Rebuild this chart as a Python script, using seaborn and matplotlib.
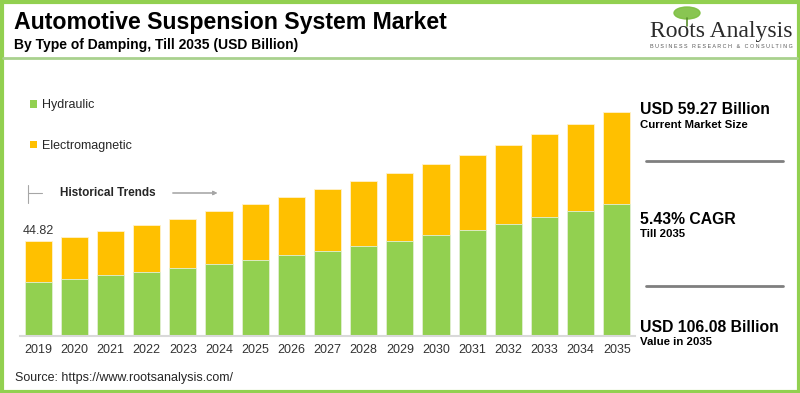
import matplotlib
matplotlib.use("Agg")
import matplotlib.pyplot as plt
from matplotlib.patches import Patch, Rectangle, Ellipse
from matplotlib.lines import Line2D
import pandas as pd
import seaborn as sns

# data (USD billion)
years = [str(y) for y in range(2019, 2036)]
hydraulic = [25.45, 27.0, 28.8, 30.5, 32.1, 34.0, 36.2, 38.2, 40.1, 42.5,
             45.0, 47.7, 50.2, 53.1, 56.3, 59.1, 62.6]
electromagnetic = [19.37, 19.95, 20.8, 22.3, 23.5, 25.27, 26.3, 27.7, 29.4, 30.8,
                   32.4, 33.9, 35.8, 37.6, 39.3, 41.6, 43.48]
series = ['Hydraulic', 'Electromagnetic']
colors = ['#92D050', '#FFC000']

df = pd.DataFrame({'Year': years, 'Hydraulic': hydraulic, 'Electromagnetic': electromagnetic})
df['Total'] = df['Hydraulic'] + df['Electromagnetic']

sns.set_theme(style="white")
plt.rcParams['font.family'] = ['Liberation Sans', 'DejaVu Sans']

W, H = 800, 393
fig = plt.figure(figsize=(8, 3.93), dpi=100)


def fx(x):
    return x / W


def fy(y):
    return 1 - y / H


ax = fig.add_axes([fx(20), fy(336), fx(635) - fx(20), fy(90) - fy(336)])

# stacked bars: total first (yellow), hydraulic on top of it (green)
sns.barplot(data=df, x='Year', y='Total', color=colors[1], width=0.75,
            edgecolor='#fff2cc', linewidth=0.6, saturation=1, ax=ax)
sns.barplot(data=df, x='Year', y='Hydraulic', color=colors[0], width=0.75,
            edgecolor='#e2f0d9', linewidth=0.6, saturation=1, ax=ax)

ax.set_xlim(-0.5, len(years) - 0.5)
ax.set_ylim(0, 246 / 2.11)
ax.set_xlabel('')
ax.set_ylabel('')
ax.set_yticks([])
for s in ['top', 'right', 'left']:
    ax.spines[s].set_visible(False)
ax.spines['bottom'].set_color('#d9d9d9')
ax.spines['bottom'].set_linewidth(1.5)
ax.tick_params(axis='x', length=0, labelsize=9, labelcolor='#333333', pad=6)

# first-year label
ax.annotate(f"{df['Total'].iloc[0]:.2f}", xy=(0, df['Total'].iloc[0]),
            xytext=(0, 3), textcoords='offset points', ha='center', va='bottom',
            fontsize=9, color='#333333')

# legend
handles = [Patch(facecolor=c, edgecolor='none') for c in colors]
fig.legend(handles, series, loc='upper left', bbox_to_anchor=(fx(24), fy(93)),
           frameon=False, fontsize=9, handlelength=0.55, handleheight=0.55,
           handletextpad=0.4, labelspacing=2.3, borderpad=0)

# historical trends marker
fig.add_artist(Line2D([fx(28), fx(28)], [fy(185), fy(203)], color='#a6a6a6', lw=0.8))
fig.add_artist(Line2D([fx(28), fx(42)], [fy(193), fy(193)], color='#a6a6a6', lw=0.8))
fig.text(fx(60), fy(193), 'Historical Trends', fontsize=8.5, fontweight='bold',
         va='center', ha='left', color='#262626')
fig.add_artist(plt.annotate('', xy=(fx(220), fy(193)), xytext=(fx(170), fy(193)),
                            xycoords='figure fraction',
                            arrowprops=dict(arrowstyle='-|>', color='#a6a6a6', lw=0.8,
                                            mutation_scale=6)))

# title block
fig.text(fx(14), fy(22), 'Automotive Suspension System Market', fontsize=16.7,
         fontweight='bold', va='center', ha='left', color='black')
fig.text(fx(14), fy(45), 'By Type of Damping, Till 2035 (USD Billion)', fontsize=10,
         fontweight='bold', va='center', ha='left', color='black')
fig.add_artist(Line2D([fx(3), fx(797)], [fy(58), fy(58)], color='#a9d18e', lw=2))

# logo
fig.add_artist(Ellipse((fx(687), fy(13)), fx(26), 12 / H, color='#7cbf3f', alpha=0.9))
fig.add_artist(Line2D([fx(687), fx(687)], [fy(18), fy(26)], color='#5a8f2e', lw=1.2))
fig.text(fx(721), fy(31), 'Roots Analysis', fontsize=17, family='Liberation Serif',
         va='center', ha='center', color='#2b2b2b')
fig.text(fx(721), fy(47), 'B U S I N E S S   R E S E A R C H   &   C O N S U L T I N G',
         fontsize=3.9, va='center', ha='center', color='#595959')

# right-hand summary panel
panel = [(110, 'USD 59.27 Billion', 11.3), (125, 'Current Market Size', 8.2),
         (219, '5.43% CAGR', 11.3), (234, 'Till 2035', 8.2),
         (327, 'USD 106.08 Billion', 11.3), (342, 'Value in 2035', 8.2)]
for y, txt, fs in panel:
    fig.text(fx(640), fy(y), txt, fontsize=fs, fontweight='bold', va='center',
             ha='left', color='black')
for y in [160.5, 286]:
    fig.add_artist(Line2D([fx(646), fx(783)], [fy(y), fy(y)], color='#7f7f7f', lw=2))

# source
fig.text(fx(15), fy(378), 'Source: https://www.rootsanalysis.com/', fontsize=9,
         va='center', ha='left', color='#262626')

# green frame
fig.add_artist(Rectangle((fx(1.5), fy(391.5)), fx(797), (390) / H, transform=fig.transFigure,
                         fill=False, edgecolor='#92D050', lw=3))

fig.savefig('out.png', dpi=100, facecolor='white')
